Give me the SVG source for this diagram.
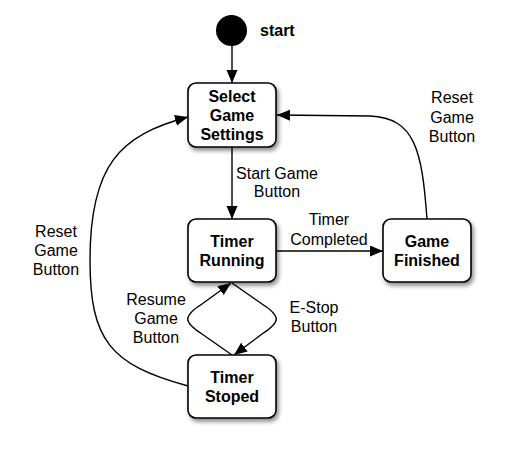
<svg xmlns="http://www.w3.org/2000/svg" width="509" height="451" viewBox="0 0 509 451">
<style>
.node{fill:#fff;stroke:#000;stroke-width:1.6;filter:url(#sh)}
.nt{font-family:"Liberation Sans",Arial,sans-serif;font-size:16px;font-weight:bold;text-anchor:middle;fill:#000}
.lt{font-family:"Liberation Sans",Arial,sans-serif;font-size:16px;text-anchor:middle;fill:#000}
.edge{fill:none;stroke:#000;stroke-width:1.4;marker-end:url(#ah)}
</style>
<defs>
<filter id="sh" x="-20%" y="-20%" width="150%" height="150%">
<feDropShadow dx="2" dy="3" stdDeviation="2" flood-color="#000" flood-opacity="0.45"/>
</filter>
<marker id="ah" markerUnits="userSpaceOnUse" markerWidth="14" markerHeight="12" refX="13" refY="5.5" orient="auto">
<path d="M0,0 L13,5.5 L0,11 z" fill="#000"/>
</marker>
</defs>
<rect width="509" height="451" fill="#fff"/>
<g id="connectors">
<path class="edge" d="M232,46 L232,83"/>
<path class="edge" d="M232,147 L232,219"/>
<path class="edge" d="M276,251 L383,251"/>
<path class="edge" d="M427,219 C422,150 415,118 370,116 L277,115"/>
<path class="edge" d="M188,386 C110,365 90,340 90,260 C90,165 120,135 188,117"/>
<path class="edge" d="M232,283 L262,304 C281,316 281,322 262,334 L234,355"/>
<path class="edge" d="M232,355 L202,334 C183,322 183,316 202,304 L231,283"/>
<text class="lt" x="277" y="179">Start Game</text>
<text class="lt" x="277" y="197">Button</text>
<text class="lt" x="329" y="225">Timer</text>
<text class="lt" x="329" y="245">Completed</text>
<text class="lt" x="452" y="103">Reset</text>
<text class="lt" x="452" y="123">Game</text>
<text class="lt" x="452" y="142">Button</text>
<text class="lt" x="56" y="237">Reset</text>
<text class="lt" x="56" y="256">Game</text>
<text class="lt" x="56" y="275">Button</text>
<text class="lt" x="156" y="305">Resume</text>
<text class="lt" x="156" y="324">Game</text>
<text class="lt" x="156" y="343">Button</text>
<text class="lt" x="314" y="313">E-Stop</text>
<text class="lt" x="314" y="332">Button</text>
</g>
<g id="start">
<circle cx="231.5" cy="30.5" r="15.5" fill="#000"/>
<text class="nt" x="260" y="36" style="text-anchor:start">start</text>
</g>
<g id="select">
<rect class="node" x="188" y="83" width="88" height="64" rx="8"/>
<text class="nt" x="232" y="102">Select</text>
<text class="nt" x="232" y="121">Game</text>
<text class="nt" x="232" y="140">Settings</text>
</g>
<g id="running">
<rect class="node" x="188" y="219" width="88" height="63" rx="8"/>
<text class="nt" x="232" y="247">Timer</text>
<text class="nt" x="232" y="266">Running</text>
</g>
<g id="finished">
<rect class="node" x="383" y="219" width="88" height="63" rx="8"/>
<text class="nt" x="427" y="247">Game</text>
<text class="nt" x="427" y="266">Finished</text>
</g>
<g id="stoped">
<rect class="node" x="188" y="355" width="88" height="63" rx="8"/>
<text class="nt" x="232" y="383">Timer</text>
<text class="nt" x="232" y="402">Stoped</text>
</g>
</svg>
